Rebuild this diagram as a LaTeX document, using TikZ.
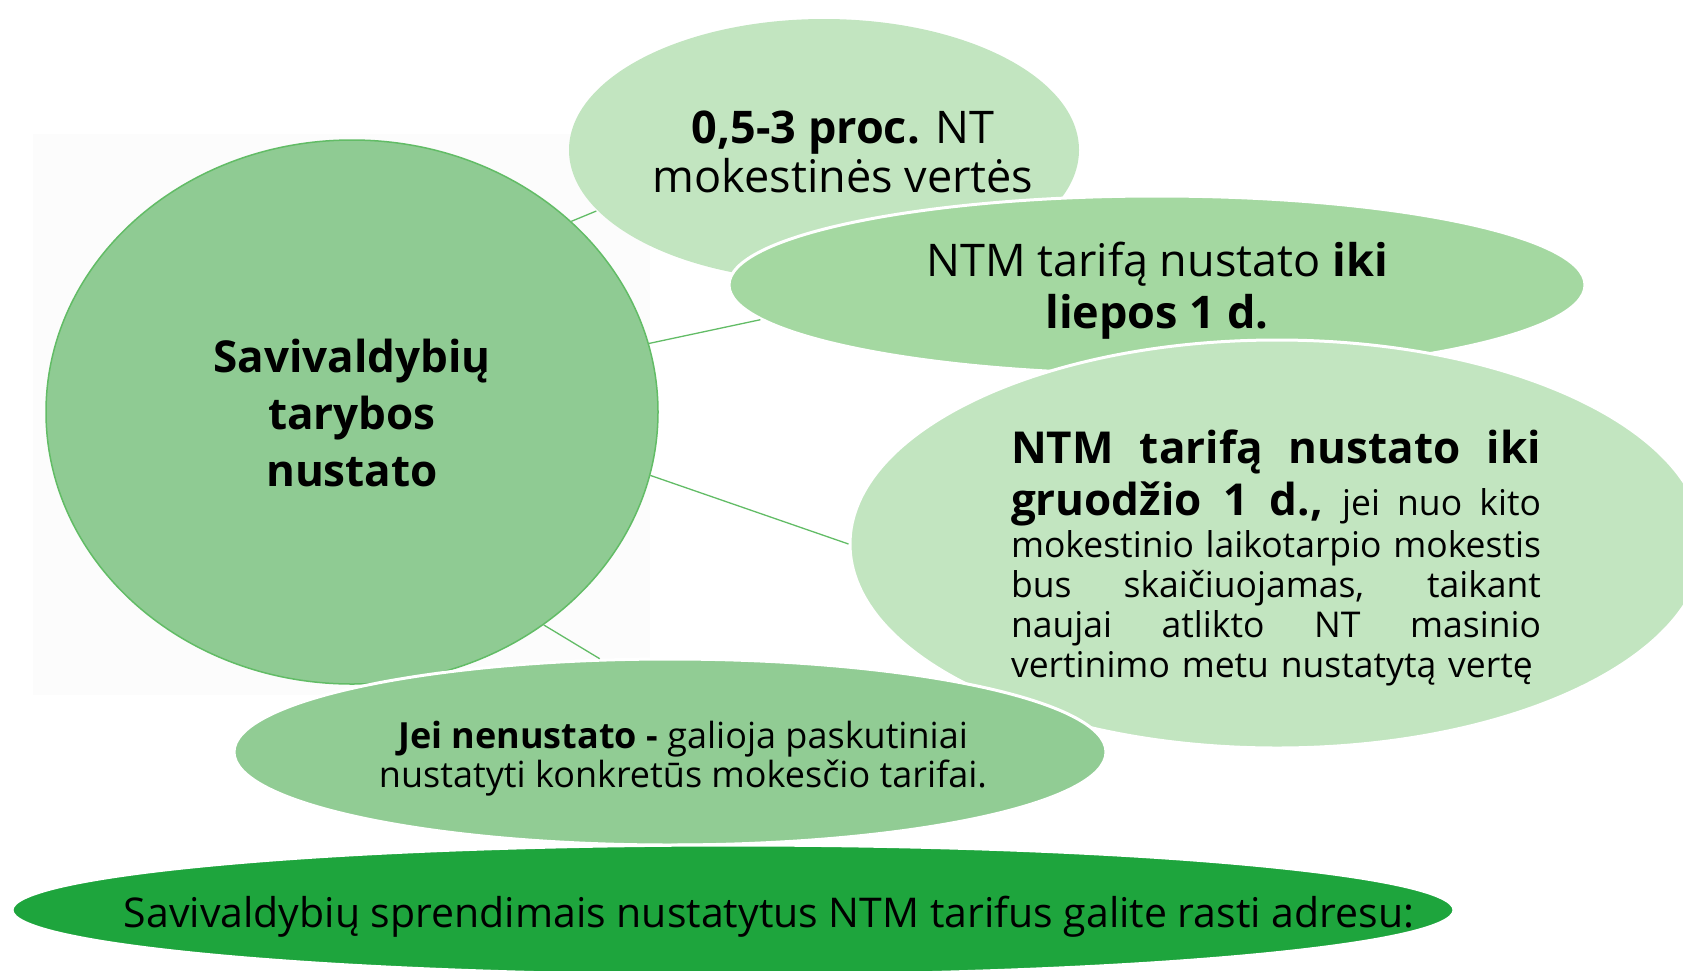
\documentclass[tikz,border=0pt]{standalone}
\usepackage{fontspec}
\setmainfont{Open Sans}
\usetikzlibrary{shapes.geometric}

\definecolor{paleGreen}{HTML}{C2E5C0}
\definecolor{midGreen}{HTML}{A4D8A1}
\definecolor{circGreen}{HTML}{8FCB93}
\definecolor{lowGreen}{HTML}{91CC94}
\definecolor{edgeGreen}{HTML}{62BC66}
\definecolor{darkGreen}{HTML}{1EA53D}
\definecolor{backGrey}{HTML}{FCFCFC}

\newcommand{\fullline}[1]{\makebox[530pt][s]{\spaceskip=0pt\relax #1}}

\tikzset{
  bubble/.style={ellipse, draw=white, line width=3pt, inner sep=0pt},
  link/.style={edgeGreen, line width=1.3pt},
  bigtext/.style={font=\fontsize{45}{52}\selectfont, align=center},
  smalltext/.style={font=\fontsize{36}{39}\selectfont, align=center},
}

\begin{document}
\begin{tikzpicture}[x=1pt,y=-1pt]
    \useasboundingbox (0,0) rectangle (1683,970);
    \clip (0,0) rectangle (1683,970);
    % faint backdrop behind the circle
    \fill[backGrey] (33,134) rectangle (650,695);
    % Top bubble: tax rate range
    \node[bubble, draw=none, fill=paleGreen, minimum width=510pt, minimum height=262pt] (rate) at (824,150) {};
    \node[bigtext, font=\fontsize{45}{49}\selectfont] (ratetext) at (843,152) {\textbf{0,5-3 proc.} NT\\mokestinės vertės};
    % Municipal councils
    \node[bubble, draw=edgeGreen, line width=1.5pt, fill=circGreen, minimum width=612pt, minimum height=544pt] (council) at (352,412) {};
    \node[bigtext, font=\fontsize{44}{57}\selectfont\bfseries] (counciltext) at (352,413) {Savivaldybių\\tarybos\\nustato};
    % July deadline
    \node[bubble, fill=midGreen, minimum width=856pt, minimum height=178pt] (july) at (1157,285) {};
    \node[bigtext] (julytext) at (1157,291) {NTM tarifą nustato \textbf{iki}\\\textbf{liepos 1 d.}};
    % December deadline
    \node[bubble, fill=paleGreen, minimum width=854pt, minimum height=408pt] (december) at (1277,544) {};
    \node[text width=530pt, align=left, inner sep=0pt, font=\fontsize{35.5}{40}\selectfont] (decembertext) at (1276,558) {%
      \fullline{\fontsize{44}{40}\selectfont\bfseries NTM tarifą nustato iki}\\[6pt]
      \fullline{{\fontsize{44}{40}\selectfont\bfseries gruodžio 1 d.,} jei nuo kito}\\[2pt]
      \fullline{mokestinio laikotarpio mokestis}\\
      \fullline{bus skaičiuojamas, taikant}\\
      \fullline{naujai atlikto NT masinio}\\
      vertinimo metu nustatytą vertę};
    % Not set
    \node[bubble, fill=lowGreen, minimum width=872pt, minimum height=186pt] (unset) at (670,752) {};
    \node[smalltext] (unsettext) at (683,759) {\textbf{Jei nenustato -} galioja paskutiniai\\nustatyti konkretūs mokesčio tarifai.};
    % Where to find
    \node[bubble, fill=darkGreen, minimum width=1442pt, minimum height=130pt] (where) at (733,910) {};
    \node[bigtext, font=\fontsize{41}{48}\selectfont] (wheretext) at (769,917) {Savivaldybių sprendimais nustatytus NTM tarifus galite rasti adresu:};
    % Connectors
    \draw[link] (council.41.6) -- (rate.195);
    \draw[link] (council.13.8) -- (july.185.9);
    \draw[link] (council.348.7) -- (december.180);
    \draw[link] (council.312.1) -- (unset.127.8);
\end{tikzpicture}
\end{document}
